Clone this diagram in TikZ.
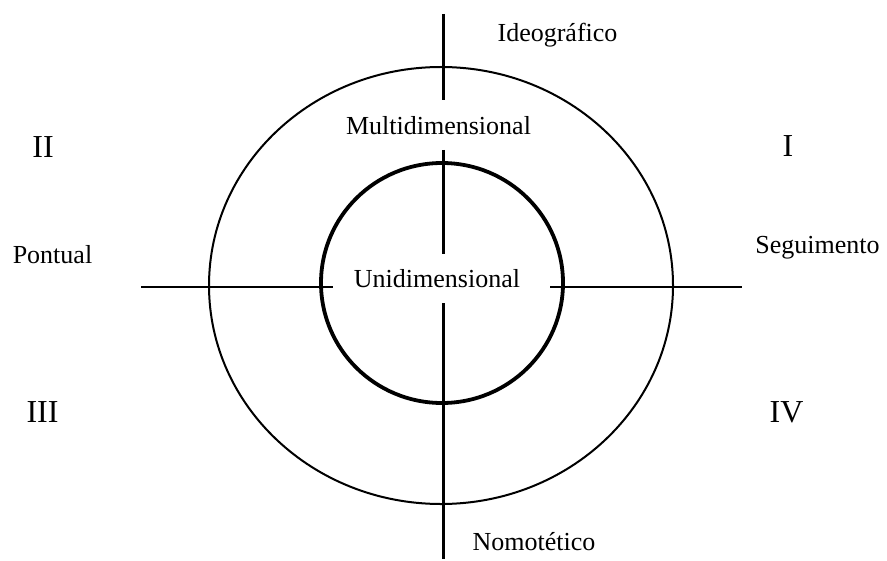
\documentclass[tikz,border=0pt]{standalone}
\usepackage{fontspec}
\setmainfont{Liberation Serif}
\begin{document}
\begin{tikzpicture}[
                x=0.5pt,
                y=-0.5pt,
                label/.style={
                    anchor=base,
                    inner sep=0pt,
                    font=\fontsize{13}{15}\selectfont
                },
                quadrant/.style={
                    anchor=base,
                    inner sep=0pt,
                    font=\fontsize{16}{18}\selectfont
                },
                axisv/.style={
                    line width=1.5pt
                },
                axish/.style={
                    line width=1pt
                },
                outer/.style={
                    line width=1pt
                },
                inner/.style={
                    line width=1.9pt
                }
            ]

                \useasboundingbox (0,0) rectangle (887,561);

                % rings
                \coordinate (o) at (441,285.5);
                \coordinate (c) at (442,283);
                \draw[outer] (o) ellipse [x radius=232, y radius=218.5];
                \draw[inner] (c) ellipse [x radius=121, y radius=120];

                % axis ends
                \coordinate (v1) at (443,14);
                \coordinate (v2) at (443,100);
                \coordinate (v3) at (443,150);
                \coordinate (v4) at (443,254);
                \coordinate (v5) at (443,303);
                \coordinate (v6) at (443,559);
                \coordinate (h1) at (141,286.5);
                \coordinate (h2) at (333,286.5);
                \coordinate (h3) at (550,286.5);
                \coordinate (h4) at (742,286.5);

                \draw[axisv] (v1) -- (v2);
                \draw[axisv] (v3) -- (v4);
                \draw[axisv] (v5) -- (v6);
                \draw[axish] (h1) -- (h2);
                \draw[axish] (h3) -- (h4);

                \node[label] (ideo) at (557.5,42) {Ideográfico};
                \node[label] (multi) at (438.5,135) {Multidimensional};
                \node[label] (uni) at (437,287) {Unidimensional};
                \node[label] (pont) at (52.5,263) {Pontual};
                \node[label] (seg) at (817.5,253) {Seguimento};
                \node[label] (nomo) at (534,550) {Nomotético};

                \node[quadrant] (qII) at (43,158) {II};
                \node[quadrant] (qI) at (788,157) {I};
                \node[quadrant] (qIII) at (42.5,422) {III};
                \node[quadrant] (qIV) at (786.5,422) {IV};

            \end{tikzpicture}
\end{document}
